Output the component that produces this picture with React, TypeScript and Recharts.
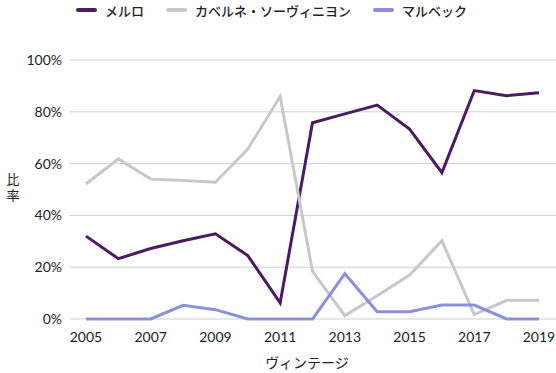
import { LineChart, Line, XAxis, YAxis, CartesianGrid } from 'recharts'

const years = ['2005', '2006', '2007', '2008', '2009', '2010', '2011', '2012', '2013', '2014', '2015', '2016', '2017', '2018', '2019']
const merlot = [32, 23.3, 27.2, 30.2, 32.9, 24.5, 6.2, 75.8, 79.2, 82.6, 73.3, 56.5, 88.2, 86.2, 87.4]
const cabernet = [52.2, 61.8, 54, 53.5, 52.8, 65.6, 85.9, 18.4, 1.3, 9, 17, 30.2, 1.7, 7.2, 7.2]
const malbec = [0, 0, 0, 5.3, 3.6, 0, 0, 0, 17.5, 2.8, 2.8, 5.4, 5.4, 0, 0]
const yTicks = [0, 20, 40, 60, 80, 100]

const series = [
  { key: 'merlot', name: 'メルロ', color: '#4a1b62' },
  { key: 'cabernet', name: 'カベルネ・ソーヴィニヨン', color: '#c8c8c8' },
  { key: 'malbec', name: 'マルベック', color: '#8b8fdc' },
]

const data = years.map((y, i) => ({ year: y, merlot: merlot[i], cabernet: cabernet[i], malbec: malbec[i] }))

const jp = '"Noto Sans CJK JP", "Noto Sans", sans-serif'
const num = 'Lato, "Noto Sans", sans-serif'

// stacked vertical axis title
function YLabel({ viewBox }: any) {
  const cy = viewBox.y + viewBox.height / 2
  return (
    <text
      x={13}
      y={cy - 1}
      textAnchor="middle"
      fontFamily={jp}
      fontSize={13}
      fill="#222"
      letterSpacing={3}
      style={{ writingMode: 'vertical-rl' }}
    >
      比率
    </text>
  )
}

export default function App() {
  return (
    <div style={{ position: 'relative', width: 556, height: 373, background: '#fff' }}>
      <style>{'body{margin:0}'}</style>
      <div
        style={{
          position: 'absolute', top: 0, left: 76, height: 20, display: 'flex', alignItems: 'center',
          fontFamily: jp, fontSize: 13, fontWeight: 500, color: '#222', whiteSpace: 'nowrap',
        }}
      >
        {series.map((s) => (
          <div key={s.key} style={{ display: 'flex', alignItems: 'center', marginRight: 22 }}>
            <span style={{ display: 'inline-block', width: 21, height: 4, borderRadius: 2, background: s.color, marginRight: 8 }} />
            <span>{s.name}</span>
          </div>
        ))}
      </div>
      <LineChart width={556} height={373} data={data} margin={{ top: 60, right: 0, bottom: 24, left: 0 }}>
        <CartesianGrid vertical={false} stroke="#cfcfcf" />
        <XAxis
          dataKey="year"
          interval={1}
          height={30}
          axisLine={false}
          tickLine={false}
          tickSize={0}
          tickMargin={13}
          padding={{ left: 16, right: 17 }}
          tick={{ fontFamily: num, fontSize: 14, fill: '#222' }}
          label={{ value: 'ヴィンテージ', position: 'bottom', offset: 9, dx: -6, fontFamily: jp, fontSize: 14, fill: '#222' }}
        />
        <YAxis
          width={70}
          domain={[0, 100]}
          ticks={yTicks}
          tickFormatter={(v) => `${v}%`}
          axisLine={false}
          tickLine={false}
          tickSize={0}
          tickMargin={8}
          tick={{ fontFamily: num, fontSize: 14, fill: '#222' }}
          label={<YLabel />}
        />
        {series.map((s) => (
          <Line
            key={s.key}
            dataKey={s.key}
            name={s.name}
            stroke={s.color}
            strokeWidth={3}
            dot={false}
            isAnimationActive={false}
          />
        ))}
      </LineChart>
    </div>
  )
}
